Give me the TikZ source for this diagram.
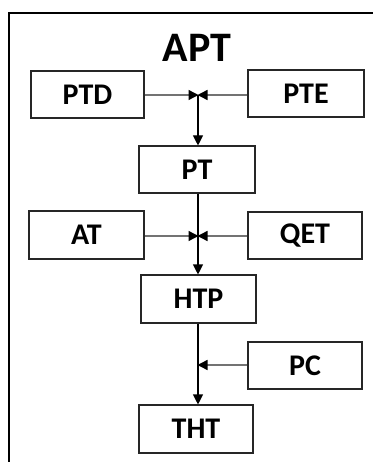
\documentclass[tikz,border=0pt]{standalone}
\usepackage{fontspec}
\setmainfont{Carlito}
\usetikzlibrary{arrows.meta}
\tikzset{
  block/.style={draw=black!85, line width=1.1pt, minimum width=115pt, minimum height=47pt,
    inner sep=0pt, font=\bfseries\fontsize{30}{32}\selectfont},
  feed/.style={draw=black!55, line width=1.4pt, -{Triangle[length=10pt,width=10pt,color=black]}, shorten >=-0.5pt},
  flow/.style={draw=black, line width=1.1pt, -{Triangle[length=10pt,width=10pt]}},
  plain/.style={draw=black, line width=1.1pt},
  frame/.style={draw=black, line width=2.6pt}
}
\begin{document}
\begin{tikzpicture}[x=1pt,y=-1pt]
  \useasboundingbox (0,0) rectangle (373,462);
  % outer frame, open on the right and at the bottom
  \draw[frame] (9,462) -- (9,13) -- (373,13);
  % title
  \node[font=\bfseries\fontsize{42}{44}\selectfont] (title) at (197,48) {APT};
  % blocks
  \node[block, minimum width=113pt] (ptd) at (87.5,94.5) {PTD};
  \node[block, minimum width=116pt] (pte) at (306,93.5) {PTE};
  \node[block, minimum width=116pt] (pt)  at (197,169.5) {PT};
  \node[block, minimum width=115pt, minimum height=48pt] (at)  at (86.5,235) {AT};
  \node[block, minimum width=114pt] (qet) at (305,235.5) {QET};
  \node[block, minimum width=115pt, minimum height=48pt] (htp) at (198.5,299) {HTP};
  \node[block, minimum width=114pt] (pc)  at (305,365.5) {PC};
  \node[block, minimum width=114pt, minimum height=48pt] (tht) at (196,429) {THT};
  % junction points on the main line
  \coordinate (j1) at (198,95);
  \coordinate (j2) at (198,236);
  \coordinate (j3) at (198,365);
  % first stage
  \draw[feed] (ptd.east |- j1) -- (j1);
  \draw[feed] (pte.west |- j1) -- (j1);
  \draw[flow] (j1) -- (j1 |- pt.north);
  % second stage
  \draw[plain] (j2 |- pt.south) -- (j2);
  \draw[feed] (at.east |- j2) -- (j2);
  \draw[feed] (qet.west |- j2) -- (j2);
  \draw[flow] (j2) -- (j2 |- htp.north);
  % third stage
  \draw[flow] (j3 |- htp.south) -- (j3 |- tht.north);
  \draw[feed] (pc.west |- j3) -- (j3);
\end{tikzpicture}
\end{document}
